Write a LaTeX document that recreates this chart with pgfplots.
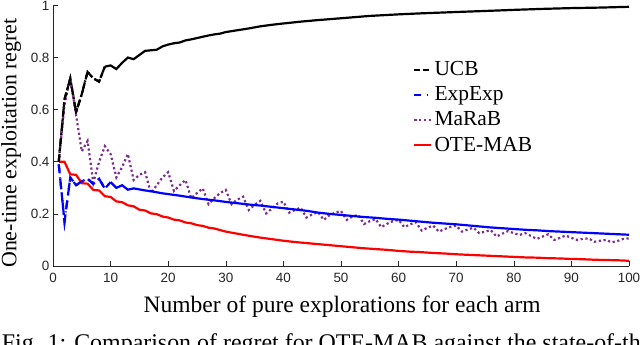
\documentclass[border=0pt]{standalone}
\usepackage{fontspec}
\setmainfont{Liberation Serif}
\setsansfont{Liberation Sans}
\usepackage{pgfplots}
\pgfplotsset{compat=1.18}

\definecolor{axgray}{RGB}{38,38,38}
\definecolor{mpurple}{RGB}{126,47,142}

\pgfplotstableread{
x y
1 0.40
2 0.64
3 0.72
4 0.59
5 0.66
6 0.745
7 0.72
8 0.708
9 0.765
}\ucbearly
\pgfplotstableread{
x y
9 0.765
10 0.770
11 0.756
12 0.780
13 0.800
14 0.794
15 0.810
16 0.826
17 0.828
18 0.830
19 0.843
20 0.850
21 0.855
22 0.858
23 0.866
24 0.870
25 0.875
26 0.880
27 0.885
28 0.889
29 0.892
30 0.898
32 0.905
34 0.912
36 0.920
38 0.926
40 0.931
43 0.938
46 0.944
50 0.951
55 0.960
60 0.966
64 0.970
70 0.975
75 0.979
81 0.984
85 0.987
90 0.990
95 0.992
100 0.995
}\ucblate
\pgfplotstableread{
x y
1 0.39
2 0.17
3 0.34
4 0.31
5 0.325
6 0.335
7 0.315
8 0.335
9 0.297
10 0.322
}\expearly
\pgfplotstableread{
x y
10 0.322
11 0.300
12 0.310
13 0.293
14 0.298
15 0.294
16 0.290
17 0.287
18 0.283
19 0.279
20 0.276
22 0.270
24 0.263
26 0.257
28 0.252
30 0.246
32 0.241
34 0.236
36 0.232
38 0.227
40 0.222
42 0.217
44 0.212
46 0.205
48 0.200
50 0.196
52 0.192
54 0.188
56 0.185
58 0.181
60 0.178
62 0.174
64 0.170
66 0.166
68 0.163
70 0.160
72 0.156
74 0.152
76 0.148
78 0.145
80 0.142
82 0.139
84 0.137
86 0.134
88 0.132
90 0.130
92 0.128
94 0.126
96 0.124
98 0.122
100 0.120
}\explate
\pgfplotstableread{
x y
1 0.40
2 0.62
3 0.72
4 0.58
5 0.44
6 0.48
7 0.32
8 0.40
9 0.46
10 0.43
11 0.34
12 0.38
13 0.43
14 0.33
15 0.35
16 0.36
17 0.28
18 0.31
19 0.34
20 0.36
21 0.288
22 0.31
23 0.33
24 0.26
25 0.28
26 0.298
27 0.237
28 0.26
29 0.28
30 0.292
31 0.237
32 0.255
33 0.266
34 0.215
35 0.235
36 0.25
37 0.202
38 0.22
39 0.24
40 0.247
41 0.205
42 0.215
43 0.224
44 0.186
45 0.198
46 0.207
47 0.177
48 0.195
49 0.205
50 0.211
51 0.177
52 0.19
53 0.196
54 0.161
55 0.172
56 0.18
57 0.149
58 0.162
59 0.172
60 0.177
61 0.149
62 0.16
63 0.168
64 0.136
65 0.147
66 0.155
67 0.132
68 0.142
69 0.15
70 0.155
71 0.132
72 0.14
73 0.147
74 0.126
75 0.132
76 0.138
77 0.113
78 0.124
79 0.134
80 0.126
81 0.119
82 0.126
83 0.115
84 0.104
85 0.113
86 0.122
87 0.100
88 0.108
89 0.117
90 0.108
91 0.100
92 0.104
93 0.106
94 0.093
95 0.097
96 0.100
97 0.091
98 0.096
99 0.104
100 0.106
}\marab
\pgfplotstableread{
x y
1 0.400
2 0.400
3 0.352
4 0.350
5 0.318
6 0.316
7 0.292
8 0.290
9 0.268
10 0.265
11 0.248
12 0.245
13 0.233
14 0.229
15 0.216
16 0.213
17 0.202
18 0.199
19 0.190
20 0.186
21 0.178
22 0.175
23 0.167
24 0.164
25 0.157
26 0.154
27 0.147
28 0.144
29 0.138
30 0.132
32 0.124
34 0.116
36 0.109
38 0.103
40 0.097
42 0.092
44 0.088
46 0.084
48 0.080
50 0.076
52 0.072
54 0.068
56 0.065
58 0.062
60 0.058
62 0.055
64 0.053
66 0.050
68 0.048
70 0.045
72 0.043
74 0.041
76 0.039
78 0.037
80 0.035
82 0.033
84 0.032
86 0.030
88 0.029
90 0.027
92 0.026
94 0.024
96 0.023
98 0.022
100 0.020
}\otemab

\begin{document}
\begin{tikzpicture}[x=1bp,y=1bp]
\path[use as bounding box] (-53bp,-79bp) rectangle (587bp,266bp);
\begin{axis}[
    at={(0,0)}, anchor=south west,
    scale only axis,
    width=576bp, height=260.5bp,
    xmin=0, xmax=100, ymin=0, ymax=1,
    axis x line*=bottom, axis y line*=left,
    axis line style={axgray, line width=0.6bp, -},
    tick align=inside,
    major tick length=5bp,
    tick style={axgray, line width=0.6bp},
    xtick={0,10,...,100},
    ytick={0,0.2,0.4,0.6,0.8,1},
    yticklabels={0,0.2,0.4,0.6,0.8,1},
    /pgf/number format/assume math mode=true,
    ticklabel style={font=\sffamily\fontsize{13.5}{15}\selectfont, text=axgray},
    xticklabel style={yshift=-4bp},
    xlabel={Number of pure explorations for each arm},
    ylabel={One-time exploitation regret},
    xlabel style={font=\fontsize{23.6}{25}\selectfont,
        at={([yshift=-46bp]axis description cs:0.502,0)}, anchor=base},
    ylabel style={font=\fontsize{22}{24}\selectfont,
        at={([xshift=-36.5bp]axis description cs:0,0.472)}, anchor=base},
    legend style={at={(axis cs:62,0.80)}, anchor=north west, draw=none, fill=none,
        font=\fontsize{21.5}{23}\selectfont, row sep=5.5bp,
        /tikz/every even column/.append style={column sep=0bp}},
    legend cell align=left,
    legend image code/.code={\draw[#1] (0bp,0bp) -- (17bp,0bp);},
    every axis plot/.append style={line width=2.2bp},
]
\addplot[black, dash pattern=on 6bp off 3bp] table {\ucbearly};
\addlegendentry{UCB}
\addplot[blue, dash pattern=on 7bp off 6bp on 1bp off 4bp] table {\expearly};
\addlegendentry{ExpExp}
\addplot[mpurple, dash pattern=on 2.2bp off 2.6bp] table {\marab};
\addlegendentry{MaRaB}
\addplot[red] table {\otemab};
\addlegendentry{OTE-MAB}
\addplot[black, forget plot, dash pattern=on 8bp off 3bp on 1.5bp off 3bp] table {\ucbearly};
\addplot[black, forget plot] table {\ucblate};
\addplot[blue, forget plot, dash pattern=on 9bp off 5bp] table {\expearly};
\addplot[blue, forget plot] table {\explate};
\end{axis}
\node[anchor=base west, font=\fontsize{24}{26}\selectfont, inner sep=0pt]
    at (-51.3bp,-84bp) {Fig. 1: Comparison of regret for OTE-MAB against the state-of-the-art};
\end{tikzpicture}
\end{document}
